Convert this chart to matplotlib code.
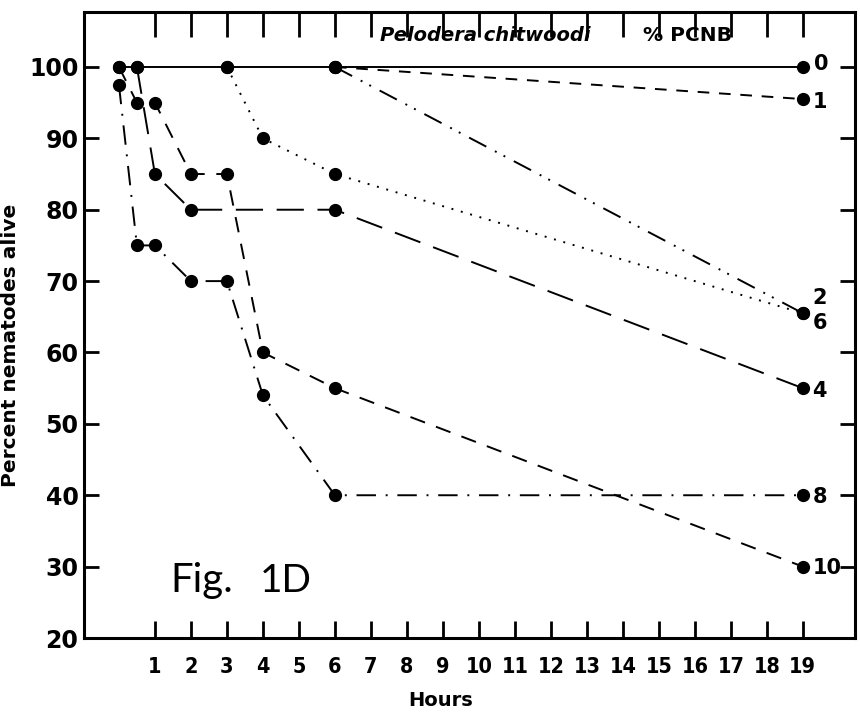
import matplotlib.pyplot as plt

# ---------------------------------------------------------------
# Data: percent nematodes alive vs hours, one series per % PCNB
# ---------------------------------------------------------------
conc_labels = ['0', '1', '2', '4', '6', '8', '10']

hours_0 = [0, 0.5, 3, 6, 19]
alive_0 = [100, 100, 100, 100, 100]

hours_1 = [6, 19]
alive_1 = [100, 95.5]

hours_2 = [6, 19]
alive_2 = [100, 65.5]

hours_4 = [0.5, 1, 2, 6, 19]
alive_4 = [100, 85, 80, 80, 55]

hours_6 = [3, 4, 6, 19]
alive_6 = [100, 90, 85, 65.5]

hours_8 = [0, 0.5, 1, 2, 3, 4, 6, 19]
alive_8 = [97.5, 75, 75, 70, 70, 54, 40, 40]

hours_10 = [0, 0.5, 1, 2, 3, 4, 6, 19]
alive_10 = [100, 95, 95, 85, 85, 60, 55, 30]

x_ticks = list(range(1, 20))
y_ticks = [20, 30, 40, 50, 60, 70, 80, 90, 100]

# ---------------------------------------------------------------
# Plot
# ---------------------------------------------------------------
fig = plt.figure(figsize=(8.6, 7.14), dpi=100)
ax = fig.add_axes([84 / 860, 1 - 638 / 714, 771 / 860, 626 / 714])

mk = dict(marker='o', markersize=8.5, color='black', lw=1.4)
ax.plot(hours_0, alive_0, linestyle='-', **mk)
ax.plot(hours_1, alive_1, linestyle=(0, (6, 5)), **mk)
ax.plot(hours_2, alive_2, linestyle=(0, (10, 5, 1, 4, 1, 5)), **mk)
ax.plot(hours_4, alive_4, linestyle=(0, (14, 7)), **mk)
ax.plot(hours_6, alive_6, linestyle=(0, (1, 4)), **mk)
ax.plot(hours_8, alive_8, linestyle=(0, (10, 5, 1, 5)), **mk)
ax.plot(hours_10, alive_10, linestyle=(0, (8, 6)), **mk)

# end-of-line concentration labels
ends = [alive_0[-1], alive_1[-1], alive_2[-1], alive_4[-1],
        alive_6[-1], alive_8[-1], alive_10[-1]]
offsets = [(8, 2), (7, -2), (7, 11), (7, -2), (7, -7), (7, -1), (7, -1)]
for lab, yv, off in zip(conc_labels, ends, offsets):
    ax.annotate(lab, (19, yv), xytext=off, textcoords='offset points',
                ha='left', va='center', fontsize=15, fontweight='bold')

ax.set_xlim(-0.97, 20.45)
ax.set_ylim(20, 107.7)

ax.set_xticks(x_ticks)
ax.set_yticks(y_ticks)
ax.tick_params(axis='x', direction='in', length=12, width=2, top=True,
               pad=14, labelsize=15.5)
ax.tick_params(axis='y', direction='in', length=11, width=2, right=True,
               pad=4, labelsize=17)
for lbl in ax.get_xticklabels():
    lbl.set_fontweight('bold')
    lbl.set_fontstretch('condensed')
for lbl in ax.get_yticklabels():
    lbl.set_fontweight('bold')
for t in ax.xaxis.get_major_ticks():
    t.tick2line.set_markersize(18)
for sp in ax.spines.values():
    sp.set_linewidth(2.2)

ax.set_xlabel('Hours', fontsize=14, fontweight='bold')
ax.xaxis.set_label_coords(0.462, -0.085)
ax.set_ylabel('Percent nematodes alive', fontsize=14.5, fontweight='bold')
ax.yaxis.set_label_coords(-0.083, 0.467)

ax.text(0.521, 0.963, 'Pelodera chitwoodi', transform=ax.transAxes,
        ha='center', va='center', fontsize=14, fontweight='bold',
        style='italic')
ax.text(0.783, 0.963, '% PCNB', transform=ax.transAxes,
        ha='center', va='center', fontsize=14.5, fontweight='bold')
ax.text(0.112, 0.0738, 'Fig.', transform=ax.transAxes,
        ha='left', va='baseline', fontsize=29, family='Lato')
ax.text(0.228, 0.0738, '1D', transform=ax.transAxes,
        ha='left', va='baseline', fontsize=28, family='Lato')

fig.savefig('out.png', dpi=100)
